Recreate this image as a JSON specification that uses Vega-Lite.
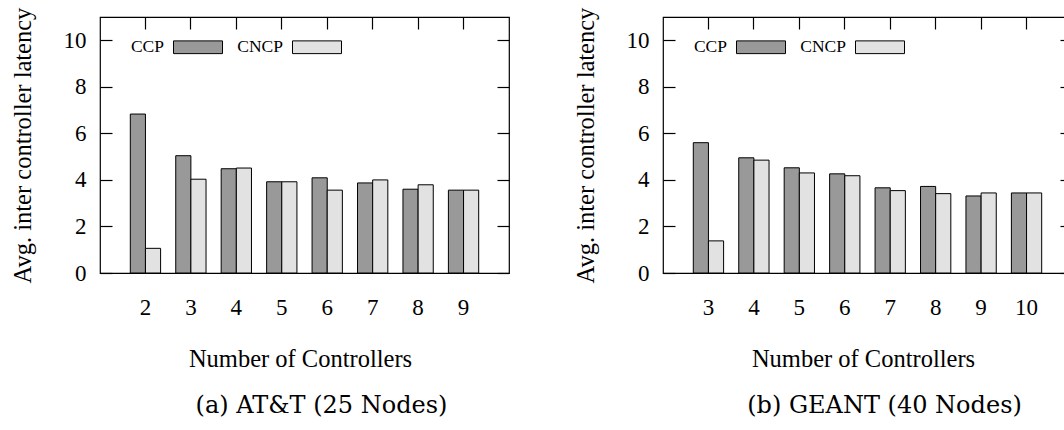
{
  "$schema": "https://vega.github.io/schema/vega-lite/v6.json",
  "padding": {"left": 9, "top": 6, "right": 0, "bottom": 0},
  "background": "white",
  "spacing": 61,
  "datasets": {
    "att": [
      {"n": 2, "series": "CCP", "value": 6.83}, {"n": 2, "series": "CNCP", "value": 1.06},
      {"n": 3, "series": "CCP", "value": 5.04}, {"n": 3, "series": "CNCP", "value": 4.03},
      {"n": 4, "series": "CCP", "value": 4.48}, {"n": 4, "series": "CNCP", "value": 4.51},
      {"n": 5, "series": "CCP", "value": 3.92}, {"n": 5, "series": "CNCP", "value": 3.92},
      {"n": 6, "series": "CCP", "value": 4.09}, {"n": 6, "series": "CNCP", "value": 3.56},
      {"n": 7, "series": "CCP", "value": 3.87}, {"n": 7, "series": "CNCP", "value": 4.0},
      {"n": 8, "series": "CCP", "value": 3.6}, {"n": 8, "series": "CNCP", "value": 3.79},
      {"n": 9, "series": "CCP", "value": 3.56}, {"n": 9, "series": "CNCP", "value": 3.56}
    ],
    "geant": [
      {"n": 3, "series": "CCP", "value": 5.6}, {"n": 3, "series": "CNCP", "value": 1.38},
      {"n": 4, "series": "CCP", "value": 4.95}, {"n": 4, "series": "CNCP", "value": 4.85},
      {"n": 5, "series": "CCP", "value": 4.52}, {"n": 5, "series": "CNCP", "value": 4.3},
      {"n": 6, "series": "CCP", "value": 4.26}, {"n": 6, "series": "CNCP", "value": 4.18},
      {"n": 7, "series": "CCP", "value": 3.66}, {"n": 7, "series": "CNCP", "value": 3.54},
      {"n": 8, "series": "CCP", "value": 3.72}, {"n": 8, "series": "CNCP", "value": 3.41},
      {"n": 9, "series": "CCP", "value": 3.31}, {"n": 9, "series": "CNCP", "value": 3.44},
      {"n": 10, "series": "CCP", "value": 3.44}, {"n": 10, "series": "CNCP", "value": 3.44}
    ]
  },
  "resolve": {"scale": {"fill": "independent"}, "legend": {"fill": "independent"}},
  "config": {
    "view": {"stroke": "black", "strokeWidth": 1.2},
    "font": "Liberation Serif",
    "axis": {
      "domain": false,
      "grid": false,
      "ticks": true,
      "tickSize": 12,
      "tickColor": "black",
      "tickWidth": 1.2,
      "tickOpacity": 1,
      "offset": -12,
      "labelFont": "Liberation Serif",
      "labelFontSize": 23,
      "labelColor": "black",
      "titleFont": "Liberation Serif",
      "titleFontSize": 24.5,
      "titleFontWeight": "normal",
      "titleColor": "black"
    },
    "title": {"font": "DejaVu Serif", "fontSize": 24, "fontWeight": "normal", "color": "black"}
  },
  "hconcat": [
    {
      "data": {"name": "att"},
      "width": 409,
      "height": 256,
      "title": {"text": "(a) AT&T (25 Nodes)", "orient": "bottom", "anchor": "middle", "frame": "group", "offset": 23, "dx": 17},
      "resolve": {"axis": {"x": "independent", "y": "independent"}},
      "layer": [
        {
          "mark": {"type": "bar", "stroke": "black", "strokeWidth": 1},
          "encoding": {
            "x": {"field": "n", "type": "ordinal", "scale": {"paddingInner": 0.3333, "paddingOuter": 0.6667},
                  "axis": {"title": "Number of Controllers", "offset": -12, "labelAngle": 0, "labelPadding": 23, "titleX": 200, "titleY": 105, "titleBaseline": "alphabetic"}},
            "xOffset": {"field": "series", "type": "nominal", "scale": {"domain": ["CCP", "CNCP"], "paddingInner": 0, "paddingOuter": 0}},
            "y": {"field": "value", "type": "quantitative", "scale": {"domain": [0, 11], "nice": false},
                  "axis": {"title": "Avg. inter controller latency", "offset": -12, "values": [0, 2, 4, 6, 8, 10], "labelPadding": 14, "titleX": -89, "titleY": 128, "titleBaseline": "middle"}},
            "fill": {"field": "series", "type": "nominal", "scale": {"domain": ["CCP", "CNCP"], "range": ["#999999", "#e2e2e2"]},
                     "legend": {"title": null, "orient": "none", "legendX": 73, "legendY": 5, "direction": "horizontal", "padding": 0,
                                "symbolType": "M-1,-0.26H1V0.26H-1Z", "symbolSize": 2401, "symbolStrokeColor": "black", "symbolStrokeWidth": 1,
                                "labelAlign": "right", "labelOffset": -59, "labelFont": "Liberation Serif", "labelFontSize": 17.5, "labelColor": "black",
                                "labelBaseline": "middle", "columnPadding": 12}}
          }
        },
        {
          "mark": {"type": "point", "opacity": 0},
          "encoding": {
            "x": {"field": "n", "type": "ordinal", "scale": {"paddingInner": 0.3333, "paddingOuter": 0.6667},
                  "axis": {"orient": "top", "offset": -12, "labels": false, "title": null}},
            "y": {"field": "value", "type": "quantitative", "scale": {"domain": [0, 11], "nice": false},
                  "axis": {"orient": "right", "offset": -12, "labels": false, "title": null, "values": [0, 2, 4, 6, 8, 10]}}
          }
        }
      ]
    },
    {
      "data": {"name": "geant"},
      "width": 409,
      "height": 256,
      "title": {"text": "(b) GEANT (40 Nodes)", "orient": "bottom", "anchor": "middle", "frame": "group", "offset": 23, "dx": 17},
      "resolve": {"axis": {"x": "independent", "y": "independent"}},
      "layer": [
        {
          "mark": {"type": "bar", "stroke": "black", "strokeWidth": 1},
          "encoding": {
            "x": {"field": "n", "type": "ordinal", "scale": {"paddingInner": 0.3333, "paddingOuter": 0.6667},
                  "axis": {"title": "Number of Controllers", "offset": -12, "labelAngle": 0, "labelPadding": 23, "titleX": 200, "titleY": 105, "titleBaseline": "alphabetic"}},
            "xOffset": {"field": "series", "type": "nominal", "scale": {"domain": ["CCP", "CNCP"], "paddingInner": 0, "paddingOuter": 0}},
            "y": {"field": "value", "type": "quantitative", "scale": {"domain": [0, 11], "nice": false},
                  "axis": {"title": "Avg. inter controller latency", "offset": -12, "values": [0, 2, 4, 6, 8, 10], "labelPadding": 14, "titleX": -89, "titleY": 128, "titleBaseline": "middle"}},
            "fill": {"field": "series", "type": "nominal", "scale": {"domain": ["CCP", "CNCP"], "range": ["#999999", "#e2e2e2"]},
                     "legend": {"title": null, "orient": "none", "legendX": 73, "legendY": 5, "direction": "horizontal", "padding": 0,
                                "symbolType": "M-1,-0.26H1V0.26H-1Z", "symbolSize": 2401, "symbolStrokeColor": "black", "symbolStrokeWidth": 1,
                                "labelAlign": "right", "labelOffset": -59, "labelFont": "Liberation Serif", "labelFontSize": 17.5, "labelColor": "black",
                                "labelBaseline": "middle", "columnPadding": 12}}
          }
        },
        {
          "mark": {"type": "point", "opacity": 0},
          "encoding": {
            "x": {"field": "n", "type": "ordinal", "scale": {"paddingInner": 0.3333, "paddingOuter": 0.6667},
                  "axis": {"orient": "top", "offset": -12, "labels": false, "title": null}},
            "y": {"field": "value", "type": "quantitative", "scale": {"domain": [0, 11], "nice": false},
                  "axis": {"orient": "right", "offset": -12, "labels": false, "title": null, "values": [0, 2, 4, 6, 8, 10]}}
          }
        }
      ]
    }
  ]
}
